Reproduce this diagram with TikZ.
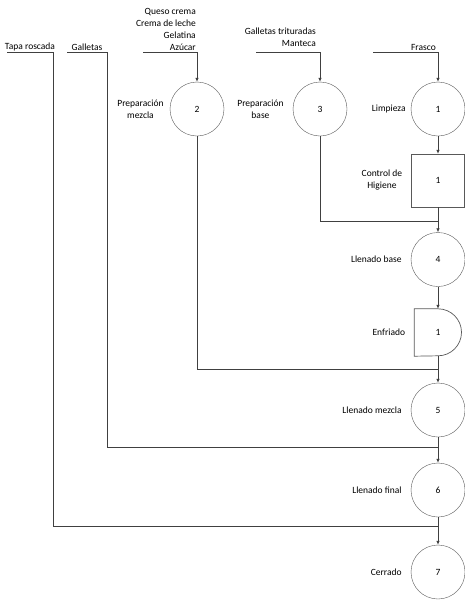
\documentclass[tikz,border=0pt]{standalone}
\usepackage{fontspec}
\setmainfont{Carlito}
\usetikzlibrary{arrows.meta, positioning}

\begin{document}
\begin{tikzpicture}[
x=1pt, y=1pt,
node distance=8pt,
font=\fontsize{9.5}{12}\selectfont,
op/.style={draw=black!65, circle, minimum size=54pt, inner sep=0pt},
insp/.style={draw=black!65, rectangle, minimum size=53pt, inner sep=0pt},
dly/.style={rectangle, minimum width=47pt, minimum height=47pt, inner sep=0pt},
lbl/.style={inner sep=1pt, align=center},
line/.style={draw=black!75, line width=0.7pt},
arrow/.style={line, -{Latex[length=4pt, width=3.5pt]}}
]
\useasboundingbox (0,0) rectangle (465,-600);

% main column
\node[op] (limp) at (438,-109) {1};
\node[insp] (ctrl) at (438,-180.5) {1};
\node[op] (llbase) at (438,-259.5) {4};
\node[dly] (enfr) at (438,-332.5) {1};
\draw[draw=black!65, line width=0.7pt] (enfr.north west) -- (enfr.north) arc[start angle=90, end angle=-90, radius=23.5pt] -- (enfr.south west) -- cycle;
\node[op] (llmez) at (438,-410) {5};
\node[op] (llfin) at (438,-490) {6};
\node[op] (cerr) at (438,-572) {7};

% preparations
\node[op] (prepmez) at (197,-109) {2};
\node[op] (prepbase) at (320,-109) {3};

% labels
\node[lbl, left=of limp, xshift=4pt] (tLimp) {Limpieza};
\node[lbl, left=of ctrl] (tCtrl) {Control de\\Higiene};
\node[lbl, left=of llbase] (tLlbase) {Llenado base};
\node[lbl, left=8pt of enfr.west] (tEnfr) {Enfriado};
\node[lbl, left=of llmez] (tLlmez) {Llenado mezcla};
\node[lbl, left=of llfin] (tLlfin) {Llenado final};
\node[lbl, left=of cerr] (tCerr) {Cerrado};
\node[lbl, left=5pt of prepmez] (tPrepmez) {Preparación\\mezcla};
\node[lbl, left=of prepbase] (tPrepbase) {Preparación\\base};

% inputs
\coordinate (inFrasco) at (373,-52);
\coordinate (inBase) at (256,-52);
\coordinate (inMez) at (143,-52);
\coordinate (inGall) at (67,-52);
\coordinate (inTapa) at (7,-52);
\node[lbl, anchor=south east, align=right] (tFrasco) at (437,-52) {Frasco};
\node[lbl, anchor=south east, align=right] (tBase) at (317,-48) {Galletas trituradas\\Manteca};
\node[lbl, anchor=south east, align=right] (tMez) at (197,-52) {Queso crema\\Crema de leche\\Gelatina\\Azúcar};
\node[lbl, anchor=south] (tGall) at (87,-52) {Galletas};
\node[lbl, anchor=south] (tTapa) at (30,-52) {Tapa roscada};

% junctions
\coordinate (jBase) at (438,-221);
\coordinate (jMez) at (438,-369);
\coordinate (jGall) at (438,-447);
\coordinate (jTapa) at (438,-526);

\draw[arrow] (inFrasco) -| (limp);
\draw[arrow] (inBase) -| (prepbase);
\draw[arrow] (inMez) -| (prepmez);
\draw[arrow] (limp) -- (ctrl);
\draw[arrow] (ctrl) -- (llbase);
\draw[line] (prepbase) |- (jBase);
\draw[arrow] (llbase) -- (enfr);
\draw[arrow] (enfr) -- (llmez);
\draw[line] (prepmez) |- (jMez);
\draw[arrow] (llmez) -- (llfin);
\draw[line] (inGall) -| ([xshift=40pt]inGall |- jGall) -- (jGall);
\draw[arrow] (llfin) -- (cerr);
\draw[line] (inTapa) -| ([xshift=46pt]inTapa |- jTapa) -- (jTapa);

\end{tikzpicture}
\end{document}
